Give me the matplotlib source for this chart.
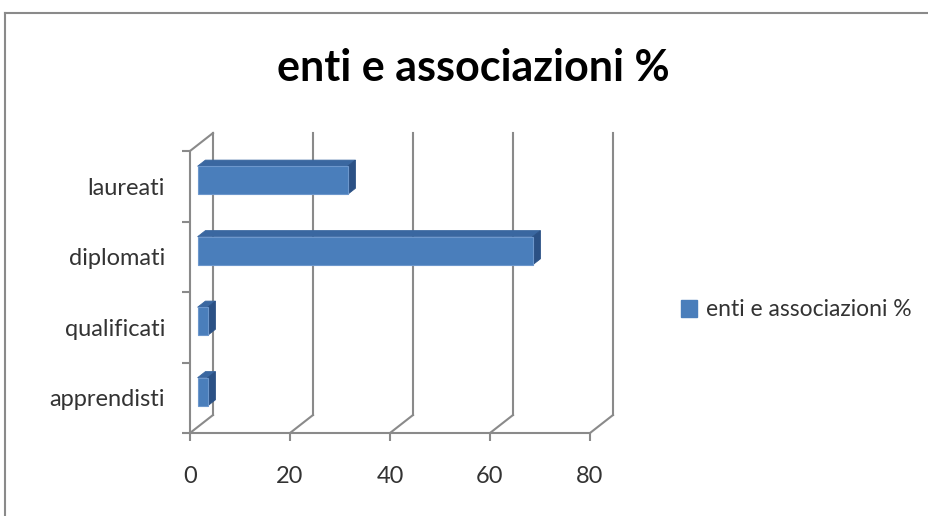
import matplotlib
matplotlib.use("Agg")
import matplotlib.pyplot as plt
from matplotlib.patches import Polygon, Patch
from matplotlib.lines import Line2D

categories = ['apprendisti', 'qualificati', 'diplomati', 'laureati']
values = [2, 2, 67, 30]
series_name = 'enti e associazioni %'
xticks = [0, 20, 40, 60, 80]

W, H = 929, 516
fig = plt.figure(figsize=(W / 100, H / 100), dpi=100)
plt.rcParams['font.family'] = ['Lato', 'DejaVu Sans']

# front plane of the 3d box, in pixels
x0, x1, yb, yt = 190, 590, 433, 151
ax = fig.add_axes([x0 / W, 1 - yb / H, (x1 - x0) / W, (yb - yt) / H])
ax.set_xlim(0, 80)
ax.set_ylim(0, len(categories))

DX = 4.6     # depth shift in value units
DY = 0.255   # depth shift in category units
f0, f1 = 0.33, 0.67   # bar depth (front / back)
h = 0.2               # half bar height

grid = '#8a8a8a'
lw = 1.5

# back wall + floor
for t in xticks:
    ax.plot([t + DX, t + DX], [DY, 4 + DY], color=grid, lw=lw, clip_on=False, zorder=1)
    ax.plot([t, t + DX], [0, DY], color=grid, lw=lw, clip_on=False, zorder=1)
ax.plot([0, DX], [4, 4 + DY], color=grid, lw=lw, clip_on=False, zorder=1)

front_c = '#4a7ebb'
top_c = '#3a67a0'
side_c = '#2b5185'
edge_c = '#6d97cc'

for i, v in enumerate(values):
    c = i + 0.5
    xa, xb = f0 * DX, v + f0 * DX
    ya, yb_ = c - h + f0 * DY, c + h + f0 * DY
    xa2, xb2 = f1 * DX, v + f1 * DX
    ya2, yb2 = c - h + f1 * DY, c + h + f1 * DY
    top = Polygon([(xa, yb_), (xb, yb_), (xb2, yb2), (xa2, yb2)], closed=True,
                  fc=top_c, ec=top_c, lw=0.6, zorder=3, clip_on=False)
    side = Polygon([(xb, ya), (xb, yb_), (xb2, yb2), (xb2, ya2)], closed=True,
                   fc=side_c, ec=side_c, lw=0.6, zorder=3, clip_on=False)
    ax.add_patch(top)
    ax.add_patch(side)
    ax.barh(c + f0 * DY, v, height=2 * h, left=xa, color=front_c,
            edgecolor=edge_c, linewidth=0.8, zorder=4)

for s in ['top', 'right']:
    ax.spines[s].set_visible(False)
for s in ['left', 'bottom']:
    ax.spines[s].set_color(grid)
    ax.spines[s].set_linewidth(lw)

ax.set_xticks(xticks)
ax.set_xticklabels([str(t) for t in xticks])
ax.tick_params(axis='x', direction='out', length=6, width=lw, color=grid,
               pad=18, labelsize=17, labelcolor='#333333')
ax.set_yticks(range(len(categories) + 1))
ax.set_yticklabels([])
ax.tick_params(axis='y', which='major', direction='out', length=6, width=lw, color=grid)
ax.set_yticks([i + 0.5 for i in range(len(categories))], minor=True)
ax.set_yticklabels(categories, minor=True)
ax.tick_params(axis='y', which='minor', length=0, pad=18, labelsize=17, labelcolor='#333333')
ax.patch.set_alpha(0)

fig.text(473 / W, 1 - 68 / H, series_name, ha='center', va='center',
         fontsize=31, fontweight='bold', color='black')

fig.legend(handles=[Patch(facecolor=front_c, edgecolor=front_c, label=series_name)],
           loc='center left', bbox_to_anchor=(660 / W, 1 - 310 / H), frameon=False,
           fontsize=16.5, handlelength=0.7, handleheight=0.7, handletextpad=0.4,
           labelcolor='#333333')

# outer chart border
fig.add_artist(Line2D([5 / W, 1], [1 - 13 / H, 1 - 13 / H], color='#8a8a8a', lw=1.5))
fig.add_artist(Line2D([5 / W, 5 / W], [0, 1 - 13 / H], color='#8a8a8a', lw=1.5))

fig.savefig('out.png', dpi=100)
